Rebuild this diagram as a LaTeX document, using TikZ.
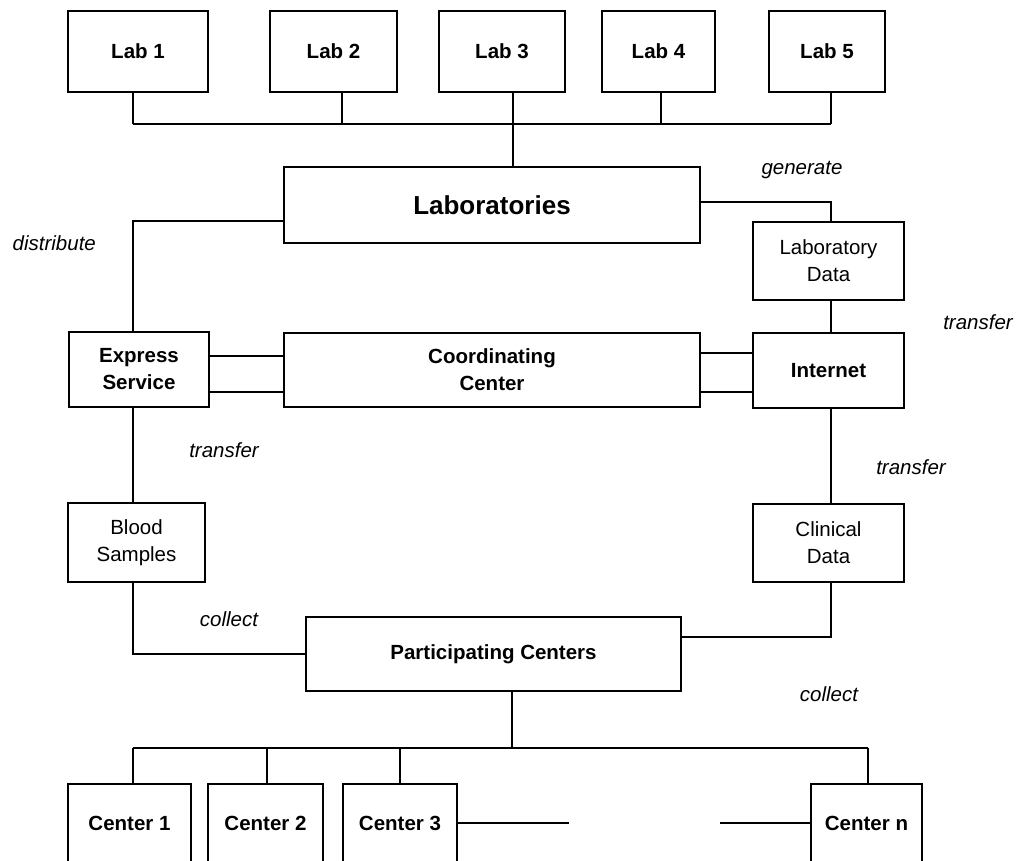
\documentclass[tikz,border=0pt]{standalone}
\usepackage{fontspec}
\setmainfont{Liberation Sans}
\begin{document}
\begin{tikzpicture}[x=1pt,y=-1pt,line width=1.4pt,
  box/.style={draw,rectangle,inner sep=0pt,align=center,font=\fontsize{20.5}{27}\selectfont},
  bbox/.style={box,font=\fontsize{20.5}{27}\selectfont\bfseries},
  lbl/.style={inner sep=0pt,font=\fontsize{20.5}{24}\selectfont\itshape}]
\useasboundingbox (0,0) rectangle (1034,860);
\clip (0,0) rectangle (1034,860);
% top labs
\node[bbox,minimum width=140pt,minimum height=81pt] (lab1) at (138,51.5) {Lab 1};
\node[bbox,minimum width=127pt,minimum height=81pt] (lab2) at (333.5,51.5) {Lab 2};
\node[bbox,minimum width=126pt,minimum height=81pt] (lab3) at (502,51.5) {Lab 3};
\node[bbox,minimum width=113pt,minimum height=81pt] (lab4) at (658.5,51.5) {Lab 4};
\node[bbox,minimum width=116pt,minimum height=81pt] (lab5) at (827,51.5) {Lab 5};
% main boxes
\node[box,font=\fontsize{26}{30}\selectfont\bfseries,minimum width=416pt,minimum height=76pt] (labs) at (492,205) {Laboratories};
\node[box,minimum width=151pt,minimum height=78pt] (labdata) at (828.5,261) {Laboratory\\Data};
\node[bbox,minimum width=140pt,minimum height=75pt] (express) at (139,369.5) {Express\\Service};
\node[bbox,minimum width=416pt,minimum height=74pt] (coord) at (492,370) {Coordinating\\Center};
\node[bbox,minimum width=151pt,minimum height=75pt] (internet) at (828.5,370.5) {Internet};
\node[box,minimum width=137pt,minimum height=79pt] (blood) at (136.5,542.5) {Blood\\Samples};
\node[box,minimum width=151pt,minimum height=78pt] (clinical) at (828.5,543) {Clinical\\Data};
\node[bbox,minimum width=375pt,minimum height=74pt] (part) at (493.5,654) {Participating Centers};
% centers
\node[bbox,minimum width=123pt,minimum height=78pt] (c1) at (129.5,823) {Center 1};
\node[bbox,minimum width=115pt,minimum height=78pt] (c2) at (265.5,823) {Center 2};
\node[bbox,minimum width=114pt,minimum height=78pt] (c3) at (400,823) {Center 3};
\node[bbox,minimum width=111pt,minimum height=78pt] (cn) at (866.5,823) {Center n};
% lab bus
\coordinate (b1) at (133,124);
\coordinate (b2) at (342,124);
\coordinate (b3) at (513,124);
\coordinate (b4) at (661,124);
\coordinate (b5) at (831,124);
\draw (b1) -- (b5);
\draw (b1 |- lab1.south) -- (b1);
\draw (b2 |- lab2.south) -- (b2);
\draw (b3 |- lab3.south) -- (b3 |- labs.north);
\draw (b4 |- lab4.south) -- (b4);
\draw (b5 |- lab5.south) -- (b5);
% distribute / generate
\draw ([yshift=-16pt]labs.west) -| ([xshift=-6pt]express.north);
\draw ([yshift=3pt]labs.east) -| ([xshift=2.5pt]labdata.north);
\draw ([xshift=2.5pt]labdata.south) -- ([xshift=2.5pt]internet.north);
% double links
\draw (express.east |- 0,356) -- (coord.west |- 0,356);
\draw (express.east |- 0,392) -- (coord.west |- 0,392);
\draw (coord.east |- 0,353) -- (internet.west |- 0,353);
\draw (coord.east |- 0,392) -- (internet.west |- 0,392);
% transfers
\draw ([xshift=-6pt]express.south) -- ([xshift=-3.5pt]blood.north);
\draw ([xshift=2.5pt]internet.south) -- ([xshift=2.5pt]clinical.north);
% collect
\draw ([xshift=-3.5pt]blood.south) |- (part.west);
\draw ([xshift=2.5pt]clinical.south) |- ([yshift=17pt]part.east);
% center bus
\coordinate (pb) at (512,748);
\coordinate (cb1) at (133,748);
\coordinate (cb2) at (267,748);
\coordinate (cb3) at (400,748);
\coordinate (cbn) at (868,748);
\draw (pb |- part.south) -- (pb);
\draw (cb1) -- (cbn);
\draw (cb1) -- (cb1 |- c1.north);
\draw (cb2) -- (cb2 |- c2.north);
\draw (cb3) -- (cb3 |- c3.north);
\draw (cbn) -- (cbn |- cn.north);
\coordinate (d1) at (569,823);
\coordinate (d2) at (720,823);
\draw (c3.east) -- (d1);
\draw (d2) -- (cn.west);
% labels
\node[lbl,anchor=west] (ldist) at (12,243) {distribute};
\node[lbl] (lgen) at (802,170) {generate};
\node[lbl] (ltr1) at (978,322) {transfer};
\node[lbl] (ltr2) at (224,450) {transfer};
\node[lbl] (ltr3) at (911,467) {transfer};
\node[lbl] (lcol1) at (229,619) {collect};
\node[lbl] (lcol2) at (829,694) {collect};
\end{tikzpicture}
\end{document}
